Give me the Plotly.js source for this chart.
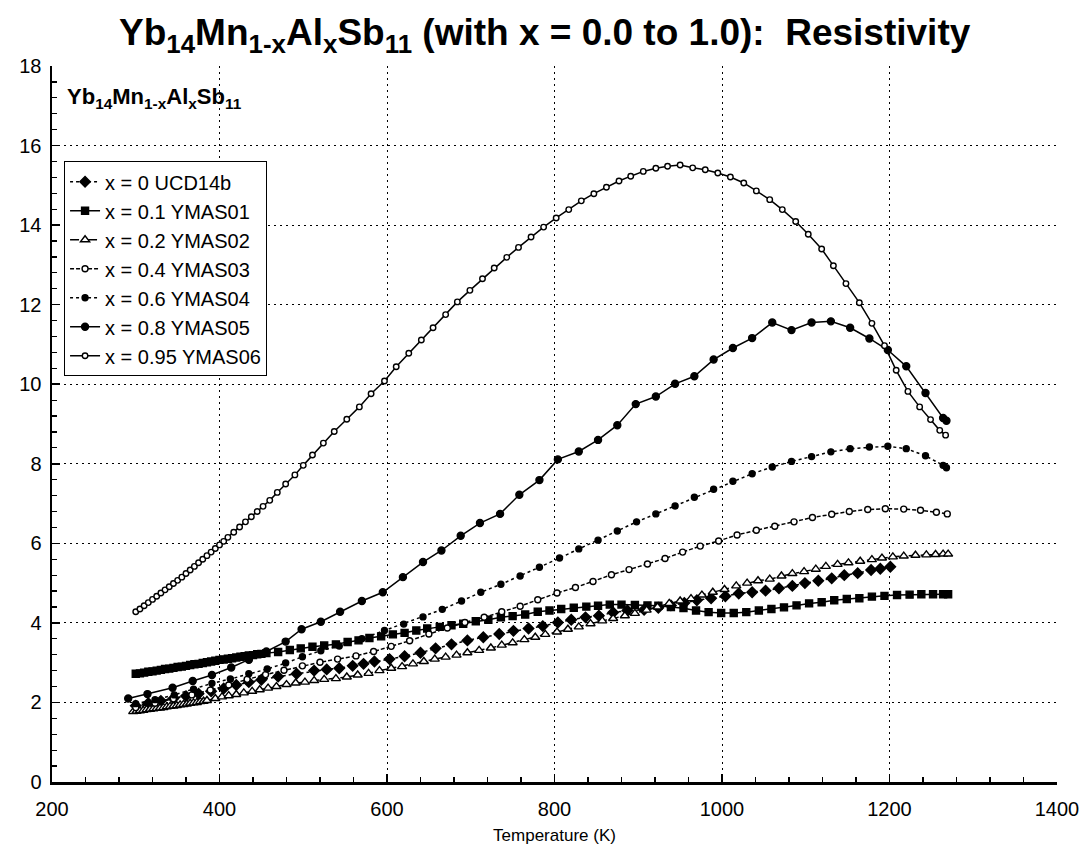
<!DOCTYPE html>
<html>
<head>
<meta charset="utf-8">
<script src="https://cdn.plot.ly/plotly-3.0.1.min.js"></script>
<style>html,body{margin:0;padding:0;background:#fff;}#chart{width:1085px;height:852px;}</style>
</head>
<body>
<div id="chart"></div>
<script>
// ---- Data (Temperature in K, resistivity values) ----
const seriesNames = ["x = 0 UCD14b","x = 0.1 YMAS01","x = 0.2 YMAS02","x = 0.4 YMAS03","x = 0.6 YMAS04","x = 0.8 YMAS05","x = 0.95 YMAS06"];

const T_x0 = [300,315,330,345,360,375,390,405,420,435,450,470,492,513,528,543,559,572,585,603,621,640,658,677,696,715,734,751,769,786,804,820,837,853,870,887,907,924,939,955,970,987,1004,1020,1036,1052,1068,1084,1099,1115,1131,1146,1162,1178,1189,1201];
const R_x0 = [1.92,1.98,2.04,2.10,2.16,2.22,2.28,2.35,2.44,2.51,2.57,2.65,2.72,2.80,2.83,2.86,2.92,2.97,3.03,3.09,3.16,3.25,3.36,3.46,3.56,3.64,3.72,3.80,3.86,3.92,4.01,4.08,4.14,4.18,4.26,4.31,4.33,4.38,4.44,4.50,4.57,4.62,4.67,4.74,4.77,4.81,4.87,4.93,5.00,5.06,5.12,5.20,5.25,5.33,5.36,5.41];

const T_x01 = [300,305,310,315,320,325,330,335,340,345,350,355,360,365,370,375,380,385,390,395,400,405,410,415,420,425,430,435,440,445,450,456,470,484,497,511,525,539,553,566,579,593,607,621,635,648,663,677,691,706,721,736,750,765,780,794,808,823,838,852,866,880,896,911,924,939,954,969,984,999,1014,1029,1044,1059,1074,1089,1104,1119,1134,1149,1164,1179,1194,1209,1224,1238,1252,1264,1270];
const R_x01 = [2.72,2.73,2.75,2.77,2.78,2.80,2.82,2.84,2.85,2.87,2.89,2.90,2.92,2.94,2.96,2.97,2.99,3.01,3.03,3.05,3.07,3.08,3.10,3.11,3.13,3.15,3.16,3.18,3.19,3.21,3.22,3.24,3.27,3.32,3.36,3.40,3.43,3.46,3.52,3.56,3.62,3.66,3.71,3.75,3.81,3.86,3.90,3.94,3.98,4.04,4.08,4.14,4.17,4.21,4.28,4.31,4.35,4.38,4.41,4.43,4.46,4.46,4.45,4.44,4.43,4.40,4.37,4.31,4.27,4.25,4.25,4.27,4.31,4.35,4.39,4.44,4.49,4.52,4.57,4.60,4.62,4.66,4.68,4.70,4.71,4.72,4.72,4.72,4.72];

const T_x02 = [297,301,305,309,313,317,321,325,329,333,337,341,345,349,353,357,361,365,369,373,377,381,385,395,403,411,420,429,439,448,458,468,480,491,502,513,525,539,552,565,578,591,605,618,631,644,657,670,683,696,710,724,737,750,764,777,789,803,816,829,843,857,870,884,896,910,923,937,950,963,976,989,1003,1017,1030,1043,1057,1071,1084,1098,1112,1124,1138,1151,1165,1179,1191,1204,1217,1231,1244,1255,1264,1270];
const R_x02 = [1.77,1.78,1.79,1.80,1.82,1.83,1.84,1.85,1.86,1.87,1.89,1.90,1.91,1.92,1.94,1.95,1.96,1.98,1.99,2.00,2.02,2.03,2.05,2.10,2.14,2.17,2.20,2.24,2.28,2.32,2.36,2.40,2.45,2.49,2.51,2.55,2.58,2.60,2.64,2.69,2.73,2.80,2.86,2.90,2.97,3.03,3.09,3.14,3.19,3.25,3.31,3.37,3.44,3.50,3.58,3.64,3.71,3.77,3.84,3.90,3.98,4.05,4.11,4.18,4.24,4.32,4.40,4.49,4.55,4.61,4.70,4.77,4.84,4.93,5.00,5.06,5.10,5.18,5.24,5.29,5.35,5.42,5.47,5.51,5.55,5.59,5.63,5.66,5.68,5.70,5.71,5.72,5.73,5.73];

const T_x04 = [300,323,345,367,389,411,433,455,477,499,520,541,563,584,605,627,650,672,693,716,737,759,780,803,825,846,868,889,911,932,953,974,996,1018,1041,1063,1086,1108,1131,1152,1174,1195,1217,1237,1256,1269];
const R_x04 = [1.87,1.98,2.09,2.19,2.31,2.44,2.58,2.70,2.81,2.92,3.01,3.09,3.17,3.28,3.41,3.55,3.72,3.87,4.01,4.14,4.28,4.42,4.58,4.75,4.89,5.04,5.21,5.34,5.48,5.62,5.78,5.93,6.06,6.21,6.33,6.43,6.54,6.65,6.73,6.80,6.85,6.87,6.86,6.83,6.78,6.74];

const T_x06 = [300,323,346,369,391,413,435,457,479,499,521,543,570,597,620,643,666,689,712,736,759,782,806,829,852,875,898,921,944,967,990,1013,1036,1060,1083,1107,1130,1153,1176,1198,1220,1243,1264,1268];
const R_x06 = [1.97,2.07,2.19,2.33,2.48,2.59,2.72,2.84,2.99,3.15,3.30,3.42,3.60,3.81,3.97,4.15,4.34,4.55,4.77,4.97,5.18,5.40,5.63,5.86,6.08,6.31,6.54,6.74,6.94,7.16,7.36,7.56,7.75,7.92,8.06,8.18,8.30,8.38,8.42,8.44,8.38,8.20,7.96,7.90];

const T_x08 = [291,314,344,368,391,414,435,456,479,498,521,544,570,595,619,643,665,688,711,735,758,782,804,829,852,875,897,921,944,967,990,1013,1036,1060,1083,1107,1130,1153,1176,1198,1220,1243,1264,1268];
const R_x08 = [2.10,2.21,2.37,2.54,2.69,2.88,3.07,3.28,3.53,3.84,4.03,4.28,4.55,4.77,5.15,5.53,5.82,6.19,6.51,6.74,7.22,7.59,8.11,8.31,8.60,8.97,9.50,9.69,10.01,10.20,10.62,10.91,11.16,11.55,11.36,11.55,11.58,11.42,11.15,10.86,10.45,9.78,9.15,9.08];

const T_x095 = [300,305,310,315,320,325,330,335,340,345,350,355,360,365,370,375,380,385,390,395,400,405,410,417,424,431,438,445,452,460,469,479,490,500,511,524,537,552,567,581,597,611,626,641,655,670,684,699,714,728,743,757,772,787,802,817,832,847,862,877,891,906,921,935,950,965,980,995,1010,1026,1041,1057,1072,1088,1103,1119,1133,1148,1164,1179,1194,1208,1222,1236,1249,1260,1267];
const R_x095 = [4.28,4.35,4.43,4.51,4.59,4.67,4.75,4.83,4.91,4.99,5.07,5.15,5.24,5.33,5.42,5.51,5.60,5.69,5.78,5.87,5.96,6.05,6.15,6.28,6.41,6.54,6.67,6.80,6.93,7.08,7.28,7.49,7.72,7.96,8.22,8.52,8.81,9.12,9.43,9.76,10.08,10.44,10.78,11.11,11.42,11.75,12.07,12.36,12.65,12.92,13.19,13.44,13.70,13.95,14.18,14.39,14.61,14.79,14.95,15.11,15.23,15.35,15.43,15.48,15.51,15.44,15.39,15.31,15.21,15.06,14.86,14.64,14.39,14.09,13.77,13.40,12.98,12.53,12.05,11.53,10.97,10.35,9.82,9.43,9.11,8.84,8.72];

const xTickVals = [200,400,600,800,1000,1200,1400];
const yTickVals = [0,2,4,6,8,10,12,14,16,18];

const FONT = "Liberation Sans, Arial, Helvetica, sans-serif";
function tr(name, T, R, dash, symbol, size, fill) {
  return {
    type: "scatter", mode: "lines+markers", name: name, x: T, y: R,
    line: {color: "#000", width: 1.5, dash: dash},
    marker: {symbol: symbol, size: size, color: fill, line: {color: "#000", width: 1.4}},
    hoverinfo: "skip"
  };
}

const data = [
  tr(seriesNames[0], T_x0, R_x0, "dot", "diamond", 8, "#000"),
  tr(seriesNames[1], T_x01, R_x01, "solid", "square", 7, "#000"),
  tr(seriesNames[2], T_x02, R_x02, "dashdot", "triangle-up", 8, "#fff"),
  tr(seriesNames[3], T_x04, R_x04, "4px,2px", "circle", 6, "#fff"),
  tr(seriesNames[4], T_x06, R_x06, "dot", "circle", 6, "#000"),
  tr(seriesNames[5], T_x08, R_x08, "solid", "circle", 7, "#000"),
  tr(seriesNames[6], T_x095, R_x095, "solid", "circle", 5.5, "#fff")
];

const layout = {
  width: 1085, height: 852,
  paper_bgcolor: "#fff", plot_bgcolor: "#fff",
  margin: {l: 52, r: 28, t: 66, b: 70},
  font: {family: FONT, color: "#000"},
  title: {
    text: "Yb<sub>14</sub>Mn<sub>1-x</sub>Al<sub>x</sub>Sb<sub>11</sub> (with x = 0.0 to 1.0):  Resistivity",
    font: {family: FONT, size: 37, color: "#000", weight: "bold"},
    x: 0.502, xanchor: "center", y: 0.962, yref: "container", yanchor: "middle"
  },
  xaxis: {
    range: [200, 1400], tickvals: xTickVals, ticktext: xTickVals.map(String),
    showgrid: true, gridcolor: "#000", griddash: "2px,4px", gridwidth: 1,
    zeroline: false, showline: true, linecolor: "#000", linewidth: 2.5,
    ticks: "inside", ticklen: 8, tickwidth: 1.5, tickcolor: "#000",
    minor: {dtick: 40, tick0: 200, ticks: "inside", ticklen: 5, tickwidth: 1.2, tickcolor: "#000", showgrid: false},
    tickfont: {family: FONT, size: 20, color: "#000"},
    ticklabelstandoff: 7,
    title: {text: "Temperature (K)", font: {family: FONT, size: 17, color: "#000"}, standoff: 11}
  },
  yaxis: {
    range: [0, 18], tickvals: yTickVals, ticktext: yTickVals.map(String),
    showgrid: true, gridcolor: "#000", griddash: "2px,4px", gridwidth: 1,
    zeroline: false, showline: true, linecolor: "#000", linewidth: 2.5,
    ticks: "inside", ticklen: 8, tickwidth: 1.5, tickcolor: "#000",
    minor: {dtick: 0.4, tick0: 0, ticks: "inside", ticklen: 5, tickwidth: 1.2, tickcolor: "#000", showgrid: false},
    tickfont: {family: FONT, size: 20, color: "#000"},
    ticklabelstandoff: 4
  },
  showlegend: true,
  legend: {
    x: 0.012, y: 0.867, xanchor: "left", yanchor: "top",
    bgcolor: "#fff", bordercolor: "#000", borderwidth: 1,
    font: {family: FONT, size: 20, color: "#000"},
    tracegroupgap: 0, itemwidth: 30
  },
  annotations: [{
    text: "<b>Yb<sub>14</sub>Mn<sub>1-x</sub>Al<sub>x</sub>Sb<sub>11</sub></b>",
    xref: "paper", yref: "paper", x: 0.013, y: 0.955, xanchor: "left", yanchor: "middle",
    showarrow: false, font: {family: FONT, size: 22, color: "#000"}
  }]
};

Plotly.newPlot("chart", data, layout, {staticPlot: true, displayModeBar: false});
</script>
</body>
</html>
